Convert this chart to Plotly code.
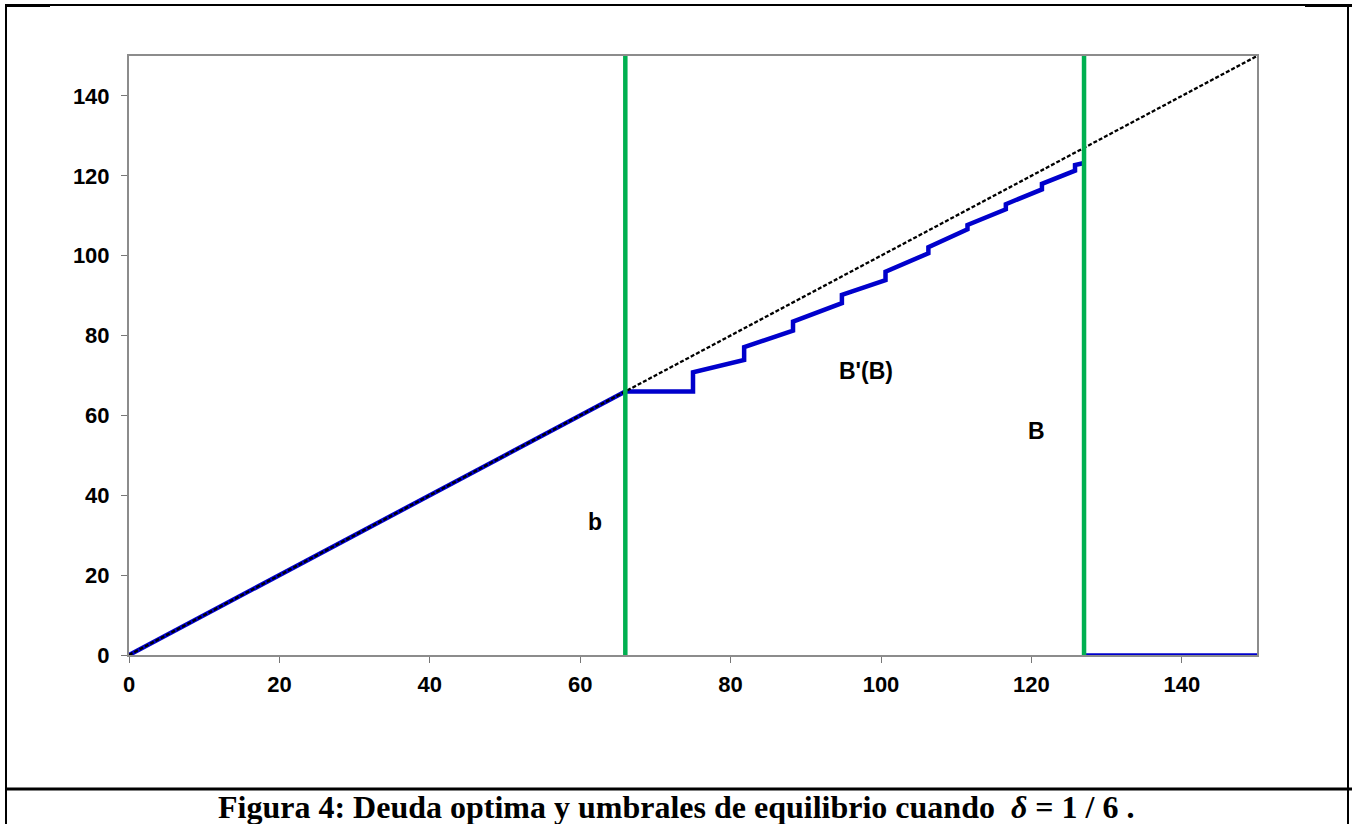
import plotly.graph_objects as go

# ---- data ----
diag_x = [0, 150]
diag_y = [0, 150]

# optimal debt B'(B): identity up to b, then staircase up to B, then zero
bprime_x = [0, 66, 75.0, 75.0, 81.8, 81.8, 88.3, 88.3, 94.8, 94.8, 100.6, 100.6,
            106.3, 106.3, 111.5, 111.5, 116.6, 116.6, 121.4, 121.4, 125.8, 125.8, 127.0]
bprime_y = [0, 66, 66.0, 70.8, 73.9, 77.1, 81.2, 83.5, 88.1, 90.2, 93.9, 96.0,
            100.6, 102.1, 106.6, 107.7, 111.6, 112.9, 116.6, 118.0, 121.3, 122.7, 123.2]
zero_x = [127.0, 150]
zero_y = [0, 0]

thresholds = [66, 127]   # b and B
threshold_y = [0, 150]

tick_vals = [0, 20, 40, 60, 80, 100, 120, 140]

labels_text = ["b", "B'(B)", "B"]
labels_x = [62, 98, 120.7]
labels_y = [33.3, 71.1, 56.1]

caption = "Figura 4: Deuda optima y umbrales de equilibrio cuando  <i>δ</i> = 1 / 6 ."

# ---- layout geometry (pixels) ----
W, H = 1352, 824
L, R, T, B = 129, 1257, 56, 655


def px(xp):
    return (xp - L) / (R - L)


def py(yp):
    return (B - yp) / (B - T)


fig = go.Figure()

fig.add_trace(go.Scatter(x=bprime_x, y=bprime_y, mode="lines",
                         line=dict(color="#0000CC", width=4.5), hoverinfo="skip"))
fig.add_trace(go.Scatter(x=zero_x, y=zero_y, mode="lines",
                         line=dict(color="#0000CC", width=3.5), hoverinfo="skip"))
fig.add_trace(go.Scatter(x=diag_x, y=diag_y, mode="lines",
                         line=dict(color="black", width=2.3, dash="4px,2px"), hoverinfo="skip"))
for t in thresholds:
    fig.add_trace(go.Scatter(x=[t, t], y=threshold_y, mode="lines",
                             line=dict(color="#00B050", width=4.5), hoverinfo="skip"))

for txt, x, y in zip(labels_text, labels_x, labels_y):
    fig.add_annotation(x=x, y=y, text=txt, showarrow=False, xref="x", yref="y",
                       font=dict(family="Liberation Sans, Arial", size=23, color="black",
                                 weight="bold"))

fig.add_annotation(x=px(676), y=py(807), xref="paper", yref="paper", text=caption,
                   showarrow=False, xanchor="center", yanchor="middle",
                   font=dict(family="Liberation Serif, Times New Roman", size=32, color="black",
                             weight="bold"))

# outer frame
frame = dict(type="line", xref="paper", yref="paper", line=dict(color="black", width=2))
shapes = [
    dict(frame, x0=px(5), x1=px(1348), y0=py(5), y1=py(5)),
    dict(frame, x0=px(5), x1=px(50), y0=py(5.5), y1=py(5.5), line=dict(color="black", width=3)),
    dict(frame, x0=px(1305), x1=px(1352), y0=py(5.5), y1=py(5.5), line=dict(color="black", width=3)),
    dict(frame, x0=px(6), x1=px(6), y0=py(5), y1=py(824)),
    dict(frame, x0=px(1348), x1=px(1348), y0=py(5), y1=py(824)),
    dict(frame, x0=px(6), x1=px(1352), y0=py(789), y1=py(789), line=dict(color="black", width=3)),
]

axis_common = dict(range=[0, 150], showgrid=False, zeroline=False, showline=True, mirror=True,
                   linecolor="#8C8C8C", linewidth=2, ticks="outside", ticklen=6, tickwidth=1,
                   tickcolor="#777777", tickvals=tick_vals,
                   tickfont=dict(family="Liberation Sans, Arial", size=22, color="black",
                                 weight="bold"))

fig.update_layout(
    width=W, height=H,
    margin=dict(l=L, r=W - R, t=T, b=H - B, pad=0),
    paper_bgcolor="white", plot_bgcolor="white",
    showlegend=False,
    shapes=shapes,
    xaxis=dict(axis_common, ticklabelstandoff=3),
    yaxis=dict(axis_common, ticklabelstandoff=7),
    font=dict(family="Liberation Sans, Arial"),
)

fig.write_html("out.html", config={"displayModeBar": False},
               post_script="document.body.style.margin='0';document.body.style.overflow='hidden';")
